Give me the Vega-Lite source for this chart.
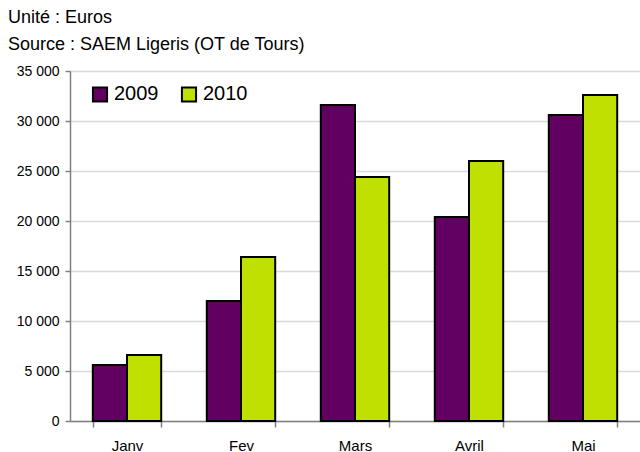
{
  "$schema": "https://vega.github.io/schema/vega-lite/v6.json",
  "autosize": "none",
  "width": 570,
  "height": 350,
  "padding": {"left": 70, "top": 71, "right": 0, "bottom": 31},
  "background": "white",
  "config": {
    "font": "Liberation Sans",
    "view": {"stroke": null},
    "locale": {"number": {"decimal": ",", "thousands": " ", "grouping": [3], "currency": ["", " €"]}}
  },
  "title": {
    "text": ["Unité : Euros", "Source : SAEM Ligeris (OT de Tours)"],
    "anchor": "start",
    "frame": "group",
    "dx": -62,
    "offset": 10,
    "fontSize": 18,
    "fontWeight": "normal",
    "lineHeight": 27,
    "color": "black"
  },
  "data": {
    "values": [
      {"mois": "Janv", "annee": "2009", "montant": 5600},
      {"mois": "Janv", "annee": "2010", "montant": 6600},
      {"mois": "Fev", "annee": "2009", "montant": 12000},
      {"mois": "Fev", "annee": "2010", "montant": 16400},
      {"mois": "Mars", "annee": "2009", "montant": 31600},
      {"mois": "Mars", "annee": "2010", "montant": 24400},
      {"mois": "Avril", "annee": "2009", "montant": 20400},
      {"mois": "Avril", "annee": "2010", "montant": 26000},
      {"mois": "Mai", "annee": "2009", "montant": 30600},
      {"mois": "Mai", "annee": "2010", "montant": 32600}
    ]
  },
  "mark": {"type": "bar", "stroke": "black", "strokeWidth": 2},
  "encoding": {
    "x": {
      "field": "mois",
      "type": "nominal",
      "sort": ["Janv", "Fev", "Mars", "Avril", "Mai"],
      "scale": {"paddingInner": 0.4, "paddingOuter": 0.2},
      "axis": {
        "title": null,
        "labelAngle": 0,
        "labelFontSize": 15,
        "labelColor": "black",
        "labelPadding": 11,
        "tickBand": "extent",
        "tickSize": 6,
        "tickColor": "#808080",
        "tickWidth": 1.5,
        "domainColor": "#808080",
        "domainWidth": 1.5
      }
    },
    "xOffset": {"field": "annee", "type": "nominal"},
    "y": {
      "field": "montant",
      "type": "quantitative",
      "scale": {"domain": [0, 35000]},
      "axis": {
        "title": null,
        "values": [0, 5000, 10000, 15000, 20000, 25000, 30000, 35000],
        "format": ",d",
        "labelFontSize": 14,
        "labelColor": "black",
        "labelPadding": 6,
        "tickSize": 5,
        "tickColor": "#808080",
        "tickWidth": 1.5,
        "domainColor": "#808080",
        "domainWidth": 1.5,
        "gridColor": "#d9d9d9",
        "gridWidth": 1.5
      }
    },
    "color": {
      "field": "annee",
      "type": "nominal",
      "scale": {"domain": ["2009", "2010"], "range": ["#620062", "#bfe000"]},
      "legend": {
        "title": null,
        "orient": "none",
        "legendX": 20,
        "legendY": 13,
        "direction": "horizontal",
        "symbolType": "square",
        "symbolSize": 200,
        "symbolStrokeColor": "black",
        "symbolStrokeWidth": 2,
        "symbolOpacity": 1,
        "labelFontSize": 20,
        "labelColor": "black",
        "columnPadding": 18
      }
    }
  }
}
